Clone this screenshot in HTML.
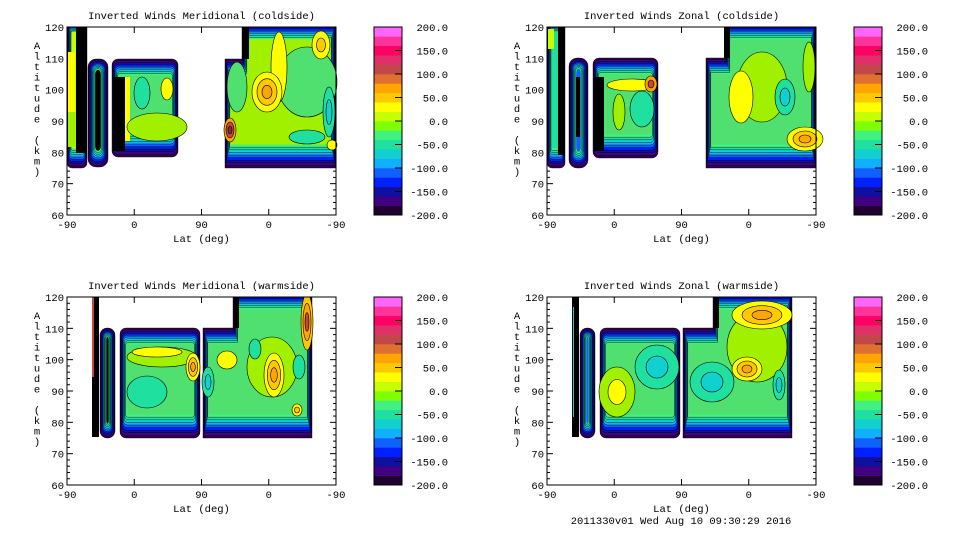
<!DOCTYPE html>
<html><head><meta charset="utf-8"><style>
html,body{margin:0;padding:0;background:#fff;width:960px;height:540px;overflow:hidden}
svg{display:block}
text{font-family:"Liberation Mono","DejaVu Sans Mono",monospace;font-size:10.5px;fill:#000}
</style></head><body>
<svg id="s" width="960" height="540" xmlns="http://www.w3.org/2000/svg"></svg>
<script>
const S=document.getElementById('s');const NS='http://www.w3.org/2000/svg';
function el(p,t,a,txt){const e=document.createElementNS(NS,t);for(const k in a)e.setAttribute(k,a[k]);if(txt!=null)e.textContent=txt;p.appendChild(e);return e;}
const CB=['#200030','#400080','#1010a0','#0020ff','#1060ff','#10b0ff','#10d0d0','#20e0a0','#40f080','#80ff00','#c8ff00','#ffff00','#ffc800','#ffa500','#e07030','#c04848','#e0306a','#ff0066','#ff3399','#ff66ff'];
const RING=['#300050','#400080','#1010a0','#0020ff','#1060ff','#10b0ff','#10d0d0','#20e0a0','#40f080'];
function blk(g,rects,fill,st,sb,ss){st=st||1.8;sb=sb||2.6;ss=ss||0.7;
  for(let i=0;i<=RING.length;i++){const c=i<RING.length?RING[i]:fill;
    for(const r of rects){const x=r[0]+i*ss,y=r[1]+i*st,w=r[2]-2*i*ss,h=r[3]-i*(st+sb);if(w<=0||h<=0)continue;
      el(g,'rect',{x:x,y:y,width:w,height:h,rx:Math.max(0,(r[4]||4)-i*0.4),fill:c,stroke:i<RING.length?'#000':'none','stroke-width':0.4});}}
}
function lblk(g,x0,x1,x2,y0,y1,yb,fill){const st=1.8,sb=2.6,ss=0.6;
  for(let i=0;i<=RING.length;i++){const c=i<RING.length?RING[i]:fill;const d=i*ss,dt=i*st,db=i*sb;
    const pts=[[x0+d,y1+dt],[x1+d,y1+dt],[x1+d,y0+dt],[x2-d,y0+dt],[x2-d,yb-db],[x0+d,yb-db]].map(p=>p.join(',')).join(' ');
    el(g,'polygon',{points:pts,fill:c,stroke:i<RING.length?'#000':'none','stroke-width':0.4,'stroke-linejoin':'round'});}
}
function blob(g,cx,cy,rx,ry,cols){cols.forEach((c,i)=>{const f=1-i/cols.length;el(g,'ellipse',{cx:cx,cy:cy,rx:rx*f,ry:ry*f,fill:c,stroke:'#000','stroke-width':0.6});});}
function R(g,x,y,w,h,c){el(g,'rect',{x:x,y:y,width:w,height:h,fill:c});}
const G='#50e070',L='#a0f000';const Y='#ffff00',YG='#c8ff00',O='#ffa500',OY='#ffc800',T='#20e0a0',C='#10d0d0',BR='#c04848';
function axes(ox,oy,title){
  const g=el(S,'g',{transform:`translate(${ox},${oy})`});
  el(g,'text',{x:134.5,y:-8,'text-anchor':'middle'},title);
  const W=269,H=188;
  for(let a=60;a<=120;a+=2){const y=H-(a-60)*H/60;const L=(a%10==0)?6:3;
    el(g,'line',{x1:0,x2:L,y1:y,y2:y,stroke:'#000','stroke-width':1});
    el(g,'line',{x1:W,x2:W-L,y1:y,y2:y,stroke:'#000','stroke-width':1});
    if(a%10==0)el(g,'text',{x:-3,y:y+4,'text-anchor':'end'},String(a));}
  const xl=['-90','0','90','0','-90'];
  for(let i=0;i<5;i++){const x=i*W/4;
    el(g,'line',{x1:x,x2:x,y1:H,y2:H-6,stroke:'#000'});el(g,'line',{x1:x,x2:x,y1:0,y2:6,stroke:'#000'});
    el(g,'text',{x:x,y:H+13,'text-anchor':'middle'},xl[i]);}
  el(g,'text',{x:134.5,y:H+27,'text-anchor':'middle'},'Lat (deg)');
  const lab='Altitude (km)';for(let i=0;i<lab.length;i++)el(g,'text',{x:-30,y:22+i*10.5,'text-anchor':'middle'},lab[i]);
  const cx=307,cw=28;const bh=H/20;
  for(let i=0;i<20;i++)R(g,cx,H-(i+1)*bh,cw,bh+0.3,CB[i]);
  el(g,'rect',{x:cx,y:0,width:cw,height:H,fill:'none',stroke:'#000'});
  const cl=['200.0','150.0','100.0','50.0','0.0','-50.0','-100.0','-150.0','-200.0'];
  for(let i=0;i<9;i++){const y=i*H/8;el(g,'text',{x:381,y:y+4,'text-anchor':'end'},cl[i]);
    if(i>0&&i<8)el(g,'line',{x1:cx+cw-7,x2:cx+cw,y1:y,y2:y,stroke:'#000'});}
  return el(g,'g',{});
}
// TL
let g=axes(67,27,'Inverted Winds Meridional (coldside)');
blk(g,[[0,-4,20,145,5]],YG,1,2.2,0.5);R(g,9,0,11,126,'#000');R(g,1,25,7,60,Y);R(g,1,85,8,35,L);
blk(g,[[21,32,20,108,8]],'#000',1.2,1.8,0.8);
blk(g,[[45,32,66,98,6]],G);R(g,46,50,12,74,'#000');R(g,58,50,5,64,Y);
blob(g,90,100,30,14,[L]);blob(g,75,66,8,16,[T]);blob(g,100,62,6,11,[Y]);
lblk(g,158,175,269,-4,32,141,L);R(g,175,0,7,32,'#000');
blob(g,240,55,30,35,[G]);blob(g,170,60,10,25,[G]);blob(g,262,85,6,25,[T,C]);
blob(g,212,40,8,35,[Y]);blob(g,200,65,15,20,[Y,OY,O]);blob(g,254,18,9,14,[Y,OY]);blob(g,163,103,6,12,[O,BR,'#803030']);
blob(g,265,118,5,5,[Y]);blob(g,240,110,18,7,[T]);
// TR
g=axes(547,27,'Inverted Winds Zonal (coldside)');
blk(g,[[0,-4,18,145,5]],T,1,2.2,0.5);R(g,11,0,7,128,'#000');R(g,1,2,6,20,YG);
blk(g,[[22,31,19,110,8]],'#1060ff',1.2,1.8,0.8);R(g,29,50,4,60,'#000');
blk(g,[[46,31,65,100,6]],G);R(g,47,50,10,74,'#000');
blob(g,85,58,25,6,[Y]);blob(g,104,57,6,8,[O,BR]);blob(g,95,82,12,18,[T]);blob(g,72,85,6,18,[L]);
lblk(g,159,178,269,-4,31,141,G);R(g,177,0,6,31,'#000');
blob(g,215,60,25,35,[L]);blob(g,194,70,12,26,[Y]);blob(g,238,70,10,18,[T,C]);blob(g,258,112,18,12,[Y,OY,O]);blob(g,262,40,6,25,[L]);
// BL
g=axes(67,297,'Inverted Winds Meridional (warmside)');
R(g,25,0,7,140,'#000');R(g,25,0,2,80,BR);
blk(g,[[33,31,15,110,7]],'#000',1,1.6,0.7);
blk(g,[[53,31,80,110,6]],G);blob(g,95,60,35,10,[L]);blob(g,90,55,25,5,[Y]);blob(g,126,70,7,14,[Y,OY,O]);blob(g,80,95,20,16,[T]);
lblk(g,136,166,245,-4,31,141,G);R(g,167,0,5,31,'#000');
blob(g,205,70,25,30,[L]);blob(g,160,63,10,9,[Y]);blob(g,207,78,10,22,[Y,OY,O]);blob(g,188,52,6,10,[T]);blob(g,141,85,6,15,[T,C]);
blob(g,240,25,6,28,[OY,O,BR]);blob(g,230,113,5,6,[Y,OY]);blob(g,232,70,6,12,[T]);
// BR
g=axes(547,297,'Inverted Winds Zonal (warmside)');
R(g,25,0,7,140,'#000');R(g,26,10,1,110,C);
blk(g,[[33,31,15,110,7]],'#1060ff',1,1.6,0.7);
blk(g,[[53,31,80,110,6]],G);blob(g,70,95,18,25,[L,Y]);blob(g,110,70,22,22,[T,C]);
lblk(g,136,166,245,-4,31,141,G);R(g,167,0,5,31,'#000');
blob(g,210,50,30,35,[L]);blob(g,165,85,22,20,[T,C]);blob(g,200,72,15,12,[Y,OY,O]);blob(g,215,18,30,14,[Y,OY,O]);blob(g,232,88,6,15,[T,C]);
el(S,'text',{x:681,y:524,'text-anchor':'middle'},'2011330v01 Wed Aug 10 09:30:29 2016');
for(const [ox,oy] of [[67,27],[547,27],[67,297],[547,297]]){
  el(S,'rect',{x:ox-1,y:oy-6,width:271,height:6,fill:'#fff'});
  el(S,'rect',{x:ox,y:oy,width:269,height:188,fill:'none',stroke:'#000','stroke-width':1});
}
</script>
</body></html>
